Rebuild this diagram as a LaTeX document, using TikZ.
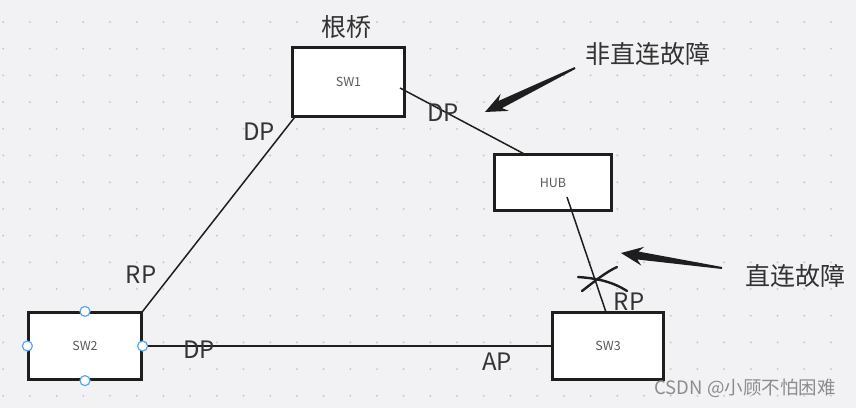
\documentclass[tikz,border=0pt]{standalone}
\usepackage{fontspec}
\setmainfont{Noto Sans CJK SC}
\usetikzlibrary{calc}
\definecolor{bg}{RGB}{242,242,244}
\definecolor{dotc}{RGB}{200,200,206}
\definecolor{ink}{RGB}{30,30,30}
\definecolor{lbl}{RGB}{51,51,51}
\definecolor{boxtxt}{RGB}{90,90,90}
\definecolor{handle}{RGB}{84,166,246}
\definecolor{wm}{RGB}{140,140,140}
\newcommand{\fatarrow}[3]{%
  \coordinate (#3n) at ($(#2)!17pt!(#1)$);
  \coordinate (#3b) at ($(#2)!22pt!(#1)$);
  \fill[ink] ($(#1)!1pt!90:(#2)$) -- ($(#3n)!4pt!90:(#2)$) -- ($(#3b)!9.5pt!90:(#2)$) -- (#2)
     -- ($(#3b)!9.5pt!-90:(#2)$) -- ($(#3n)!4pt!-90:(#2)$) -- ($(#1)!1pt!-90:(#2)$) -- cycle;}
\begin{document}
\begin{tikzpicture}[x=1pt,y=-1pt,
  box/.style={draw=ink,line width=2.2pt,fill=white,inner sep=0pt,
              font=\fontsize{12.5}{13}\selectfont,text=boxtxt},
  conn/.style={draw=ink,line width=1.5pt},
  port/.style={inner sep=0pt,font=\fontsize{24}{26}\selectfont,text=lbl},
  note/.style={inner sep=0pt,font=\fontsize{25}{27}\selectfont,text=lbl},
  handlec/.style={circle,draw=handle,fill=white,line width=1.2pt,inner sep=0pt,minimum size=10pt}]
\fill[bg] (0,0) rectangle (856,408);
\useasboundingbox (0,0) rectangle (856,408);
\foreach \i in {0,...,31}{\foreach \j in {0,...,14}{\fill[dotc] (3.2+26.7*\i,22+26.7*\j) circle (1.1pt);}}

% boxes
\node[box,minimum width=112pt,minimum height=69pt] (sw1) at (348.5,82) {SW1};
\node[box,minimum width=117pt,minimum height=56pt] (hub) at (553,182.5) {HUB};
\node[box,minimum width=113pt,minimum height=67pt] (sw2) at (85,346) {SW2};
\node[box,minimum width=111pt,minimum height=67pt] (sw3) at (608,346) {SW3};

% connectors
\coordinate (p1) at (400,88);
\coordinate (h1) at ($(hub.north west)!0.25!(hub.north east)$);
\coordinate (h2) at (567,197);
\coordinate (s3) at ($(sw3.north west)!0.48!(sw3.north east)$);
\coordinate (s1) at ($(sw1.south west)+(3,0)$);
\draw[conn] (s1) -- (sw2.north east);
\draw[conn] (p1) -- (h1);
\draw[conn] (h2) -- (s3);
\draw[conn] (sw2.east) -- (sw3.west);

% handles on SW2
\node[handlec] (hn) at (sw2.north) {};
\node[handlec] (hs) at (sw2.south) {};
\node[handlec] (hw) at (sw2.west) {};
\node[handlec] (he) at (sw2.east) {};

% port labels
\node[port] (l1) at (259,132) {DP};
\node[port] (l2) at (141,275) {RP};
\node[port] (l3) at (443,113) {DP};
\node[port] (l4) at (629,302) {RP};
\node[port] (l5) at (199,350) {DP};
\node[port] (l6) at (497,362) {AP};

% notes
\node[note] (root) at (346,27) {根桥};
\node[note] (n1) at (648,54) {非直连故障};
\node[note] (n2) at (795,276) {直连故障};

% arrows
\coordinate (a1t) at (575,68);
\coordinate (a1h) at (485,112);
\fatarrow{a1t}{a1h}{a1}
\coordinate (a2t) at (722,268);
\coordinate (a2h) at (621,253);
\fatarrow{a2t}{a2h}{a2}

% cross mark
\draw[ink,line width=2.4pt,line cap=round] (582,291) .. controls (595,281) and (606,272) .. (617,267);
\draw[ink,line width=2.4pt,line cap=round] (578,277) .. controls (592,278) and (610,280) .. (627,291);

% watermark
\node[inner sep=0pt,font=\fontsize{18.5}{20}\selectfont,text=wm] (wmk) at (745,388) {CSDN @小顾不怕困难};
\end{tikzpicture}
\end{document}
